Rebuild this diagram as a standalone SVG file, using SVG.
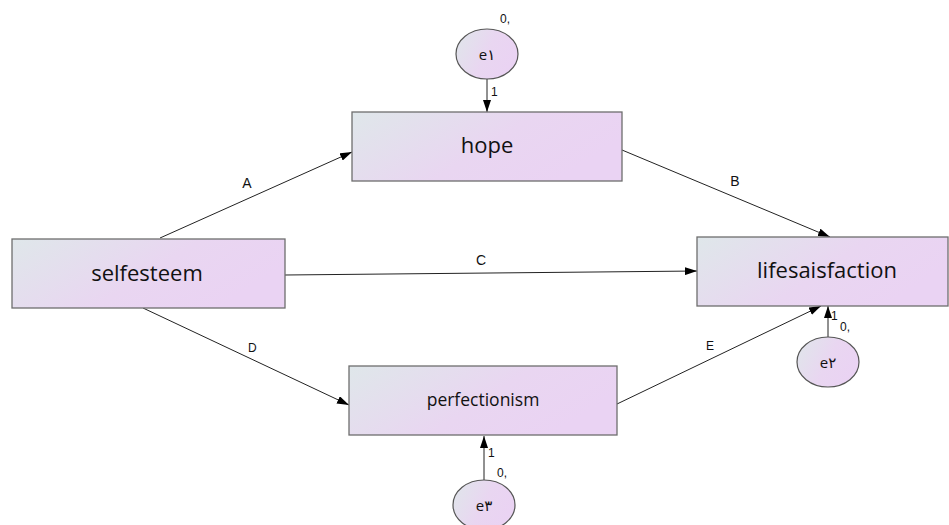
<svg xmlns="http://www.w3.org/2000/svg" width="949" height="525" viewBox="0 0 949 525">
<defs>
<linearGradient id="g" x1="0" y1="0" x2="1" y2="0.4">
<stop offset="0" stop-color="#dfe7ea"/>
<stop offset="0.6" stop-color="#e9d6f1"/>
<stop offset="1" stop-color="#ead3f3"/>
</linearGradient>
<marker id="ah" markerWidth="12" markerHeight="8" refX="12" refY="4" orient="auto" markerUnits="userSpaceOnUse">
<path d="M0,0 L12,4 L0,8 Z" fill="#000"/>
</marker>
<style>
.box{fill:url(#g);stroke:#6e6e6e;stroke-width:1.3}
.ell{fill:url(#g);stroke:#555;stroke-width:1.2}
.nt{font-family:"Open Sans","Noto Sans",sans-serif;fill:#111;text-anchor:middle}
.et{font-family:"Open Sans","DejaVu Sans",sans-serif;fill:#111;text-anchor:middle;font-size:15px}
.lb{font-family:"Liberation Sans",Arial,sans-serif;fill:#111;font-size:14px;text-anchor:middle}
.sm{font-family:"Liberation Sans",Arial,sans-serif;fill:#111;font-size:12px}
.cn{stroke:#222;stroke-width:1;fill:none;marker-end:url(#ah)}
</style>
</defs>
<rect width="949" height="525" fill="#fff"/>
<g id="connectors">
<line class="cn" x1="160" y1="238" x2="352" y2="152"/>
<line class="cn" x1="622" y1="150" x2="830" y2="237"/>
<line class="cn" x1="285" y1="275" x2="697" y2="271"/>
<line class="cn" x1="143" y1="308" x2="349" y2="405"/>
<line class="cn" x1="617" y1="404" x2="821" y2="306"/>
<line class="cn" x1="487" y1="79" x2="487" y2="112"/>
<line class="cn" x1="828" y1="337" x2="828" y2="306"/>
<line class="cn" x1="484" y1="480" x2="484" y2="436"/>
<text class="lb" x="247" y="188">A</text>
<text class="lb" x="735" y="186">B</text>
<text class="lb" x="481" y="265">C</text>
<text class="sm" x="248" y="352">D</text>
<text class="sm" x="706" y="350">E</text>
<text class="sm" x="491" y="96">1</text>
<text class="sm" x="831" y="320">1</text>
<text class="sm" x="840" y="331">0,</text>
<text class="sm" x="488" y="457">1</text>
<text class="sm" x="497" y="477">0,</text>
<text class="sm" x="500" y="23">0,</text>
</g>
<g id="hope">
<rect class="box" x="352" y="112" width="270" height="69"/>
<text class="nt" x="487" y="153" font-size="22">hope</text>
</g>
<g id="selfesteem">
<rect class="box" x="12" y="239" width="273" height="69"/>
<text class="nt" x="147" y="281" font-size="22">selfesteem</text>
</g>
<g id="lifesaisfaction">
<rect class="box" x="697" y="237" width="251" height="69"/>
<text class="nt" x="827" y="278" font-size="22">lifesaisfaction</text>
</g>
<g id="perfectionism">
<rect class="box" x="349" y="366" width="268" height="69"/>
<text class="nt" x="483" y="406" font-size="17.5">perfectionism</text>
</g>
<g id="e1">
<ellipse class="ell" cx="487" cy="54" rx="31" ry="25"/>
<text class="et" x="487" y="60">e١</text>
</g>
<g id="e2">
<ellipse class="ell" cx="828" cy="362" rx="31" ry="25"/>
<text class="et" x="828" y="368">e٢</text>
</g>
<g id="e3">
<ellipse class="ell" cx="484" cy="505" rx="31" ry="25"/>
<text class="et" x="484" y="511">e٣</text>
</g>
</svg>
